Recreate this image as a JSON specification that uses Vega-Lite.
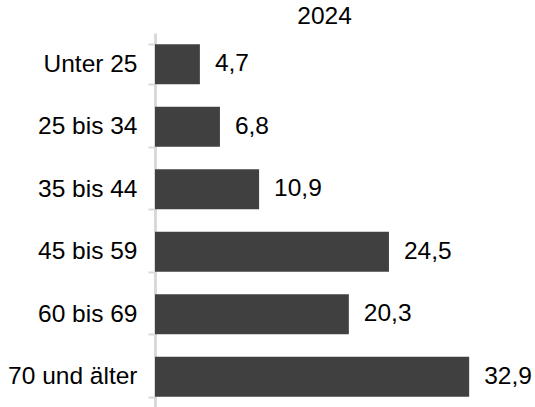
{
  "$schema": "https://vega.github.io/schema/vega-lite/v6.json",
  "autosize": {"type": "none"},
  "padding": {"left": 155, "top": 33, "right": 41, "bottom": 0},
  "width": 339,
  "height": 375,
  "config": {
    "view": {"stroke": null},
    "font": "Liberation Sans",
    "locale": {"number": {"decimal": ",", "thousands": ".", "grouping": [3], "currency": ["", " €"]}}
  },
  "title": {"text": "2024", "fontSize": 24.5, "fontWeight": "normal", "color": "#000000", "font": "Liberation Sans", "anchor": "middle", "offset": 7, "dy": 16},
  "data": {
    "values": [
      {"Alter": "Unter 25", "Anteil": 4.7},
      {"Alter": "25 bis 34", "Anteil": 6.8},
      {"Alter": "35 bis 44", "Anteil": 10.9},
      {"Alter": "45 bis 59", "Anteil": 24.5},
      {"Alter": "60 bis 69", "Anteil": 20.3},
      {"Alter": "70 und älter", "Anteil": 32.9}
    ]
  },
  "encoding": {
    "y": {
      "field": "Alter", "type": "nominal", "sort": null,
      "scale": {"paddingInner": 0.36, "paddingOuter": 0.18},
      "axis": {
        "title": null, "domainColor": "#d9d9d9", "domainWidth": 3,
        "tickColor": "#d9d9d9", "tickWidth": 2, "tickSize": 7, "tickBand": "extent",
        "labelFontSize": 24.5, "labelColor": "#000000", "labelPadding": 11, "labelFont": "Liberation Sans"
      }
    },
    "x": {"field": "Anteil", "type": "quantitative", "scale": {"domain": [0, 35.5], "nice": false}, "axis": null}
  },
  "layer": [
    {"mark": {"type": "bar", "color": "#404040"}},
    {"mark": {"type": "text", "align": "left", "dx": 15, "fontSize": 24.5, "color": "#000000", "font": "Liberation Sans"},
     "encoding": {"text": {"field": "Anteil", "type": "quantitative", "format": ".1f"}}}
  ]
}
